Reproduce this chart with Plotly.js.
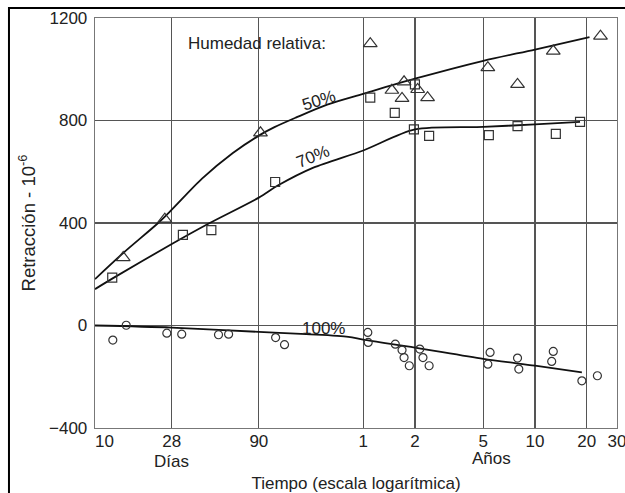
<!DOCTYPE html>
<html><head><meta charset="utf-8">
<script src="https://cdn.plot.ly/plotly-3.0.1.min.js"></script>
<style>html,body{margin:0;padding:0;background:#fff;} #chart{width:625px;height:493px;}</style>
</head><body><div id="chart"></div>
<script>
// x values in days (log scale); y values: shrinkage x 10^-6
const tickDays = [10, 28, 90, 365.25, 730.5, 1826.25, 3652.5, 7305, 10957.5];
const tickLabels = ["\u00a0\u00a0\u00a0\u00a010", "28", "90", "1", "2", "5", "10", "20", "30"];
const yTicks = [-400, 0, 400, 800, 1200];

// fitted curves
const curve50Days = [10, 14.6, 23.5, 28, 42, 63.5, 90, 111, 147.6, 225, 365, 730, 1826, 3652, 7586];
const curve50Vals = [181, 283, 402, 452, 573, 673, 741, 774, 811, 862, 904, 963, 1033, 1077, 1125];
const curve70Days = [10, 12.6, 28, 46, 90, 116, 187, 365, 730, 1826, 3652, 6683];
const curve70Vals = [142, 183, 318, 398, 499, 546, 616, 683, 765, 775, 785, 795];
const curve100Days = [10, 28, 90, 170, 299, 365, 730, 1826, 3652, 6850];
const curve100Vals = [0, -8, -25, -34, -44, -55, -86, -130, -157, -183];

// measured points
const tri50Days = [14.6, 25.5, 92, 401, 536, 614, 631, 757, 865, 1941, 2890, 4667, 8790];
const tri50Vals = [265, 415, 752, 1100, 918, 886, 951, 921, 889, 1006, 941, 1071, 1129];
const sq70Days = [12.6, 32.5, 47.6, 112, 401, 557, 730, 720, 883, 1967, 2890, 4830, 6683];
const sq70Vals = [187, 354, 372, 560, 889, 830, 941, 765, 740, 743, 778, 748, 795];
const circ100Days = [12.7, 15.2, 26.2, 32, 52.4, 60, 112.7, 127, 388, 390, 561, 614, 631, 677, 779, 813, 883, 2000, 1941, 2890, 2940, 4667, 4570, 6850, 8435];
const circ100Vals = [-57, 1, -30, -34, -36, -34, -47, -75, -27, -66, -73, -96, -125, -157, -92, -125, -157, -105, -151, -127, -170, -101, -140, -216, -196];

const FONT = 'Liberation Sans, Arial, Helvetica, sans-serif';
const TXT = '#222';
const FS = 17;
const xMin = 1, xMax = Math.log10(10957.5) + 0.0005;
const toPaperX = d => (Math.log10(d) - xMin) / (xMax - xMin);

const lineStyle = {color: '#111', width: 1.8, shape: 'spline', smoothing: 0.8};
const mk = (sym, size) => ({symbol: sym, size: size, color: '#333', line: {width: 1.2, color: '#333'}});

const data = [
  {x: curve50Days, y: curve50Vals, mode: 'lines', line: lineStyle, hoverinfo: 'skip'},
  {x: curve70Days, y: curve70Vals, mode: 'lines', line: lineStyle, hoverinfo: 'skip'},
  {x: curve100Days, y: curve100Vals, mode: 'lines', line: lineStyle, hoverinfo: 'skip'},
  {x: tri50Days, y: tri50Vals, mode: 'markers', marker: mk('triangle-up-open', 12)},
  {x: sq70Days, y: sq70Vals, mode: 'markers', marker: mk('square-open', 9)},
  {x: circ100Days, y: circ100Vals, mode: 'markers', marker: mk('circle-open', 8)}
];

const ann = (text, x, y, extra) => Object.assign({
  text: text, xref: 'paper', yref: 'paper', x: x, y: y,
  xanchor: 'center', yanchor: 'middle', showarrow: false,
  font: {size: FS, color: TXT}
}, extra || {});

const layout = {
  width: 625, height: 493,
  margin: {l: 95, r: 8, t: 18, b: 65},
  paper_bgcolor: '#fff', plot_bgcolor: '#fff',
  showlegend: false,
  font: {family: FONT, size: FS, color: TXT},
  xaxis: {
    type: 'log', range: [xMin, xMax],
    tickvals: tickDays, ticktext: tickLabels, ticklabeloverflow: 'allow', ticklabelstandoff: -3,
    ticks: '', showgrid: true, gridcolor: '#555', gridwidth: 1.3,
    showline: true, mirror: true, linecolor: '#777', linewidth: 1.3,
    zeroline: false, tickfont: {size: FS, color: TXT},
    title: {text: 'Tiempo (escala logarítmica)', font: {size: FS, color: TXT}, standoff: 27}
  },
  yaxis: {
    range: [-400, 1200], tickvals: yTicks, ticklabelstandoff: 3,
    ticks: '', showgrid: true, gridcolor: '#555', gridwidth: 1.3,
    showline: true, mirror: true, linecolor: '#777', linewidth: 1.3,
    zeroline: false, tickfont: {size: FS, color: TXT},
    title: {text: 'Retracción - 10<sup>-6</sup>', font: {size: 18.5, color: TXT}, standoff: 8}
  },
  shapes: [
    // outer figure frame
    {type: 'rect', xref: 'paper', yref: 'paper', x0: -0.1648, x1: 1.5, y0: -1, y1: 1.0244,
     line: {color: '#000', width: 2}, fillcolor: 'rgba(0,0,0,0)'},
    // gap in the zero grid line behind the "100%" label
    {type: 'rect', xref: 'paper', yref: 'y', layer: 'between',
     x0: toPaperX(150), x1: toPaperX(300), y0: -18, y1: 18,
     line: {width: 0}, fillcolor: '#fff'}
  ],
  annotations: [
    ann('Humedad relativa:', 0.310, 0.939),
    ann('50%', toPaperX(201), 0.7976, {textangle: -17}),
    ann('70%', toPaperX(187), 0.661, {textangle: -22}),
    ann('100%', toPaperX(213), 0.2415),
    ann('Días', toPaperX(28), -0.0805),
    ann('Años', 0.7605, -0.0755)
  ]
};

Plotly.newPlot('chart', data, layout, {displayModeBar: false, staticPlot: true});
</script>
</body></html>
